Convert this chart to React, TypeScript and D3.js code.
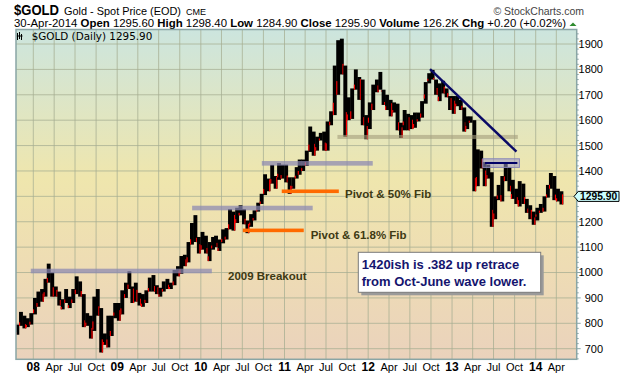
import React from 'react';
import * as d3 from 'd3';

// Semi-monthly [low, high, close] estimates (first half / second half of each month)
const prices2007 = [[755,795,790],[790,845,820],[780,830,785],[785,820,800],[795,840,835]]; // Oct b .. Dec b
const prices2008 = [[840,900,890],[865,925,920],[885,935,905],[905,975,970],[960,1035,1000],[905,1000,930],[905,945,920],[870,925,880],[855,895,880],[880,935,885],[860,905,885],[880,935,930],[915,985,960],[905,965,915],[785,905,800],[790,840,825],[740,830,770],[775,905,880],[830,935,855],[685,860,725],[715,760,745],[705,830,815],[750,830,820],[830,880,870]];
const prices2009 = [[810,880,840],[835,930,920],[900,960,945],[935,1005,945],[880,945,925],[885,960,920],[870,915,885],[865,915,890],[880,930,925],[925,980,975],[925,990,935],[915,950,930],[905,940,935],[925,965,950],[935,975,940],[935,960,955],[950,1010,1005],[985,1025,995],[995,1065,1050],[1025,1070,1040],[1040,1120,1115],[1110,1195,1180],[1120,1226,1125],[1075,1140,1100]];
const prices2010 = [[1090,1160,1140],[1075,1145,1085],[1045,1120,1090],[1095,1140,1120],[1100,1145,1105],[1085,1130,1115],[1120,1170,1145],[1130,1175,1170],[1170,1250,1230],[1165,1240,1215],[1195,1255,1245],[1225,1265,1245],[1190,1250,1200],[1155,1205,1180],[1185,1230,1225],[1205,1245,1240],[1240,1275,1270],[1270,1310,1305],[1310,1387,1370],[1320,1370,1355],[1350,1424,1370],[1330,1380,1365],[1375,1431,1385],[1370,1425,1420]];
const prices2011 = [[1355,1425,1370],[1310,1375,1330],[1330,1375,1370],[1370,1415,1410],[1385,1445,1420],[1400,1445,1430],[1420,1480,1475],[1480,1575,1555],[1460,1545,1495],[1480,1535,1530],[1520,1550,1530],[1480,1555,1500],[1480,1595,1590],[1580,1635,1625],[1620,1815,1760],[1700,1915,1825],[1780,1921,1810],[1535,1815,1620],[1600,1690,1680],[1605,1725,1720],[1720,1800,1770],[1680,1760,1750],[1580,1760,1600],[1525,1620,1565]];
const prices2012 = [[1590,1670,1640],[1640,1740,1735],[1710,1760,1725],[1720,1790,1705],[1660,1720,1660],[1640,1700,1665],[1615,1680,1655],[1630,1670,1665],[1560,1665,1580],[1530,1590,1560],[1580,1640,1620],[1560,1625,1600],[1565,1620,1590],[1570,1630,1615],[1595,1630,1615],[1610,1675,1665],[1685,1750,1745],[1755,1785,1775],[1760,1798,1755],[1700,1760,1715],[1675,1745,1730],[1705,1755,1720],[1690,1725,1695],[1640,1690,1675]];
const prices2013 = [[1625,1695,1665],[1655,1695,1665],[1640,1680,1645],[1555,1650,1580],[1565,1615,1595],[1590,1615,1600],[1320,1590,1360],[1340,1485,1470],[1410,1480,1435],[1340,1420,1390],[1370,1425,1390],[1180,1395,1235],[1210,1300,1285],[1290,1345,1325],[1280,1380,1375],[1360,1434,1395],[1320,1415,1330],[1290,1365,1330],[1270,1330,1285],[1260,1360,1350],[1270,1350,1285],[1235,1290,1240],[1210,1265,1235],[1188,1240,1205]];
const prices2014 = [[1220,1255,1245],[1235,1270,1255],[1240,1300,1300],[1295,1345,1330],[1330,1392,1375],[1285,1380,1295],[1280,1330,1320],[1268,1305,1296]];

const yTicks = [700, 800, 900, 1000, 1100, 1200, 1300, 1400, 1500, 1600, 1700, 1800, 1900];
const yearLabels = ['08', '09', '10', '11', '12', '13', '14'];
const monthLabels = ['Apr', 'Jul', 'Oct'];

const bandStarts = ['2007-12-21', '2009-11-24', '2010-09-24'];
const bandEnds = ['2010-02-18', '2011-05-04', '2012-01-21'];
const bandValues = [1006, 1254, 1430];
const pivotStarts = ['2010-07-03', '2010-12-20'];
const pivotEnds = ['2011-03-26', '2011-08-26'];
const pivotValues = [1166, 1320];
const supportDates = ['2011-08-20', '2013-10-15'];
const supportValue = 1534;
const trendDates = ['2012-09-27', '2013-10-09'];
const trendValues = [1801, 1476];
const retraceBoxDates = ['2013-05-15', '2013-10-22'];
const retraceLineDates = ['2013-05-25', '2013-10-13'];
const retraceValue = 1431;
const lastClose = 1295.9;

const W = 620, H = 376;
const PL = 16, PR = 576.7, PT = 29.5, PB = 359.3;
const FONT = 'Liberation Sans, Arial, sans-serif';

const pd = (s: string) => d3.timeParse('%Y-%m-%d')(s) as Date;

export default function App() {
  const x = d3.scaleTime().domain([new Date(2008, 0, 1), new Date(2014, 0, 1)]).range([33.3, 535.7]);
  const y = d3.scaleLinear().domain([700, 1900]).range([348.7, 44]);

  const all = [...prices2007, ...prices2008, ...prices2009, ...prices2010, ...prices2011, ...prices2012, ...prices2013, ...prices2014];
  const bars = all.map((p, i) => {
    const mo = Math.floor((i + 1) / 2);
    const half = (i + 1) % 2;
    const date = new Date(2007, 9 + mo, half ? 23 : 8);
    const prev = i > 0 ? all[i - 1][2] : p[2];
    const lo = Math.min(p[0], prev), hi = Math.max(p[1], prev);
    return { date, low: p[0], high: p[1], lo, hi, close: p[2], prev, down: p[2] < prev };
  });

  const quarterDates: Date[] = [];
  for (let yr = 2008; yr <= 2014; yr++) for (let q = 0; q < 4; q++) {
    const d = new Date(yr, q * 3, 1);
    if (x(d) > PL && x(d) < PR) quarterDates.push(d);
  }

  const lastY = y(lastClose) - 1;

  return (
    <svg width={W} height={H} style={{ position: 'absolute', left: 0, top: 0, background: '#fff' }} fontFamily={FONT}>
      <defs>
        <linearGradient id="bg" x1="0" y1="0" x2="0" y2="1">
          <stop offset="0" stopColor="#cce5de" />
          <stop offset="0.45" stopColor="#efe6ad" />
          <stop offset="0.72" stopColor="#eedcb4" />
          <stop offset="1" stopColor="#ead2bc" />
        </linearGradient>
        <clipPath id="plot"><rect x={PL} y={PT} width={PR - PL} height={PB - PT} /></clipPath>
      </defs>

      {/* Header */}
      <text x={14} y={15} fontSize={15} fontWeight="bold" textLength={45} lengthAdjust="spacingAndGlyphs">$GOLD</text>
      <text x={64} y={15} fontSize={11} textLength={117} lengthAdjust="spacingAndGlyphs">Gold - Spot Price (EOD)</text>
      <text x={186} y={15} fontSize={9} textLength={20} lengthAdjust="spacingAndGlyphs">CME</text>
      <text x={584} y={15} fontSize={10.5} fill="#444" textAnchor="end">© StockCharts.com</text>
      <text x={14} y={27} fontSize={10.5} textLength={552} lengthAdjust="spacingAndGlyphs">
        30-Apr-2014 <tspan fontWeight="bold">Open</tspan> 1295.60 <tspan fontWeight="bold">High</tspan> 1298.40 <tspan fontWeight="bold">Low</tspan> 1284.90 <tspan fontWeight="bold">Close</tspan> 1295.90 <tspan fontWeight="bold">Volume</tspan> 126.2K <tspan fontWeight="bold">Chg</tspan> +0.20 (+0.02%)
      </text>
      <polygon points="569.5,26 576.5,26 573,22.5" fill="#2e8b2e" />

      {/* Plot background */}
      <rect x={PL} y={PT} width={PR - PL} height={PB - PT} fill="url(#bg)" />

      {/* Grid */}
      <g stroke="#a5ad92" strokeOpacity={0.75} strokeWidth={1}>
        {yTicks.map(v => <line key={'h' + v} x1={PL} x2={PR} y1={y(v)} y2={y(v)} />)}
        {quarterDates.map(d => <line key={'v' + d.getTime()} x1={x(d)} x2={x(d)} y1={PT} y2={PB} />)}
      </g>

      {/* Legend */}
      <g stroke="#000" strokeWidth={1}>
        <line x1={17.5} x2={17.5} y1={33} y2={40} />
        <line x1={19.5} x2={19.5} y1={32} y2={39} />
        <line x1={21.5} x2={21.5} y1={34} y2={40} />
        <line x1={16.5} x2={22.5} y1={36} y2={36} />
      </g>
      <text x={31.7} y={40} fontSize={10.4} fontFamily="DejaVu Sans, Verdana, sans-serif">$GOLD (Daily) 1295.90</text>

      <g clipPath="url(#plot)">
        {/* Price bars */}
        {bars.map((b, i) => (
          <g key={i}>
            <rect x={x(b.date) - 1.9} y={y(b.hi)} width={3.9} height={Math.max(1, y(b.lo) - y(b.hi))} fill="#000" />
            {b.down && (
              <rect x={x(b.date) + 0.6} y={y(b.close) - 3} width={1.2} height={Math.max(1, y(b.low) - y(b.close) + 3)} fill="#ff0000" />
            )}
            {!b.down && (
              <rect x={x(b.date) - 1.9} y={y(b.low) - Math.max(2, (y(b.low) - y(b.high)) * 0.25)} width={1.1} height={Math.max(2, (y(b.low) - y(b.high)) * 0.25)} fill="#ff0000" />
            )}
          </g>
        ))}

        {/* Horizontal bands */}
        {bandValues.map((v, i) => (
          <rect key={'b' + i} x={x(pd(bandStarts[i]))} width={x(pd(bandEnds[i])) - x(pd(bandStarts[i]))} y={y(v) - 2.3} height={4.6} fill="#8a88b2" opacity={0.72} />
        ))}
        <rect x={x(pd(supportDates[0]))} width={x(pd(supportDates[1])) - x(pd(supportDates[0]))} y={y(supportValue) - 2} height={4} fill="#a39d7c" opacity={0.6} />
        {pivotValues.map((v, i) => (
          <rect key={'p' + i} x={x(pd(pivotStarts[i]))} width={x(pd(pivotEnds[i])) - x(pd(pivotStarts[i]))} y={y(v) - 1.8} height={3.6} fill="#ff6a00" />
        ))}

        {/* Retrace box */}
        <rect x={x(pd(retraceBoxDates[0]))} width={x(pd(retraceBoxDates[1])) - x(pd(retraceBoxDates[0]))} y={y(retraceValue) - 4.3} height={8.6} fill="#9a98c8" fillOpacity={0.55} stroke="#8886b8" strokeWidth={1} />
        <line x1={x(pd(retraceLineDates[0]))} x2={x(pd(retraceLineDates[1]))} y1={y(retraceValue)} y2={y(retraceValue)} stroke="#000066" strokeWidth={2} />

        {/* Trend line */}
        <line x1={x(pd(trendDates[0]))} y1={y(trendValues[0])} x2={x(pd(trendDates[1]))} y2={y(trendValues[1])} stroke="#0a0a66" strokeWidth={2.4} />
      </g>

      {/* Annotation texts */}
      <g fill="#3e3a14" fontWeight="bold" fontSize={11.5}>
        <text x={228} y={279.5}>2009 Breakout</text>
        <text x={345} y={198}>Pivot &amp; 50% Fib</text>
        <text x={310.7} y={239}>Pivot &amp; 61.8% Fib</text>
      </g>

      {/* Note box */}
      <rect x={361.3} y={255.3} width={182.4} height={40} fill="#9a9a9a" />
      <rect x={358.3} y={252.3} width={182.4} height={40} fill="#fff" stroke="#7a7a7a" strokeWidth={1} />
      <g fill="#14146e" fontWeight="bold" fontSize={13}>
        <text x={361.7} y={269}>1420ish is .382 up retrace</text>
        <text x={361.7} y={285.5}>from Oct-June wave lower.</text>
      </g>

      {/* Plot border */}
      <rect x={PL} y={PT} width={PR - PL} height={PB - PT} fill="none" stroke="#89a5a5" strokeWidth={1.5} />

      {/* Right axis */}
      <g stroke="#89a5a5" strokeWidth={1}>
        {d3.range(660, 1941, 20).filter(v => y(v) > PT && y(v) < PB).map(v => (
          <line key={'t' + v} x1={PR} x2={PR + (v % 100 === 0 ? 4 : 2)} y1={y(v)} y2={y(v)} />
        ))}
      </g>
      <g fontSize={11} textAnchor="end">
        {yTicks.filter(v => Math.abs(y(v) - lastY) > 10).map(v => <text key={'yl' + v} x={603} y={y(v)} dy="0.36em">{v}</text>)}
      </g>

      {/* Last price label */}
      <polygon points={`574,${lastY} 578.3,${lastY - 5} 619,${lastY - 5} 619,${lastY + 5} 578.3,${lastY + 5}`} fill="#ccffff" stroke="#000" strokeWidth={1} />
      <text x={598.6} y={lastY} dy="0.36em" fontSize={10.5} fontWeight="bold" textAnchor="middle" textLength={37} lengthAdjust="spacingAndGlyphs">1295.90</text>

      {/* Bottom axis labels */}
      <g fontSize={11} textAnchor="middle">
        {quarterDates.map(d => {
          const m = d.getMonth();
          const isYear = m === 0;
          const label = isYear ? yearLabels[d.getFullYear() - 2008] : monthLabels[m / 3 - 1];
          return (
            <text key={'xl' + d.getTime()} x={x(d)} y={371} fontWeight={isYear ? 'bold' : 'normal'} fontSize={isYear ? 12 : 11}>{label}</text>
          );
        })}
      </g>
    </svg>
  );
}
